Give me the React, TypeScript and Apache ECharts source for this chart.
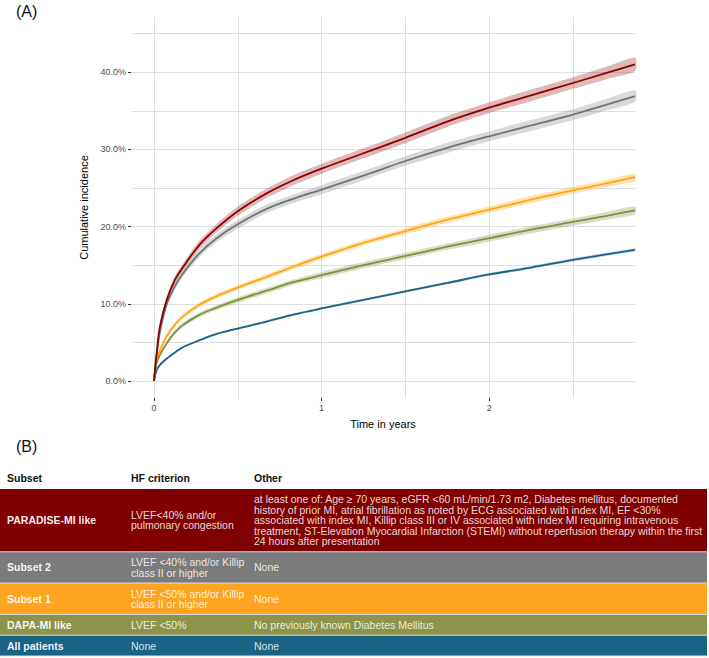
import React, { useEffect, useRef } from "react";
import * as echarts from "echarts";

// ---- Data ----
const timeYears = [0, 0.016, 0.036, 0.076, 0.125, 0.175, 0.274, 0.374, 0.5, 0.672, 0.831, 1.0, 1.25, 1.5, 1.75, 2.0, 2.25, 2.5, 2.7, 2.87];

const paradiseMI = [0, 3.6, 7.1, 10.5, 13.1, 14.8, 17.7, 19.8, 22.0, 24.3, 26.0, 27.5, 29.5, 31.5, 33.6, 35.4, 37.0, 38.6, 39.9, 41.0];
const subset2 = [0, 3.3, 6.4, 9.9, 12.3, 14.0, 16.6, 18.5, 20.3, 22.3, 23.6, 24.8, 26.6, 28.5, 30.2, 31.7, 33.1, 34.5, 35.8, 36.9];
const subset1 = [0, 2.7, 4.0, 5.8, 7.3, 8.4, 9.9, 11.0, 12.1, 13.5, 14.8, 16.1, 17.9, 19.4, 20.9, 22.2, 23.5, 24.7, 25.6, 26.4];
const dapaMI = [0, 2.3, 3.4, 4.9, 6.3, 7.3, 8.6, 9.5, 10.5, 11.7, 12.8, 13.7, 15.0, 16.2, 17.4, 18.5, 19.6, 20.6, 21.4, 22.1];
const allPatients = [0, 1.4, 2.1, 2.9, 3.7, 4.4, 5.3, 6.1, 6.8, 7.7, 8.6, 9.4, 10.5, 11.6, 12.7, 13.8, 14.7, 15.7, 16.4, 17.0];

// half-widths of the confidence bands (percentage points)
const ciParadiseMI = [0, 0.3, 0.4, 0.45, 0.5, 0.5, 0.55, 0.55, 0.6, 0.6, 0.65, 0.65, 0.65, 0.7, 0.7, 0.7, 0.75, 0.75, 0.8, 0.85];
const ciSubset2 = [0, 0.3, 0.35, 0.4, 0.45, 0.45, 0.5, 0.5, 0.55, 0.55, 0.55, 0.6, 0.6, 0.6, 0.65, 0.65, 0.7, 0.7, 0.75, 0.75];
const ciSubset1 = [0, 0.15, 0.2, 0.25, 0.25, 0.3, 0.3, 0.3, 0.3, 0.35, 0.35, 0.35, 0.35, 0.4, 0.4, 0.4, 0.45, 0.45, 0.45, 0.45];
const ciDapaMI = [0, 0.15, 0.2, 0.25, 0.25, 0.3, 0.3, 0.3, 0.35, 0.35, 0.35, 0.4, 0.4, 0.4, 0.4, 0.45, 0.45, 0.45, 0.5, 0.5];
const ciAllPatients = [0, 0.08, 0.1, 0.1, 0.12, 0.12, 0.12, 0.14, 0.14, 0.15, 0.15, 0.15, 0.16, 0.17, 0.17, 0.18, 0.19, 0.2, 0.2, 0.2];

const yTickValues = [0, 10, 20, 30, 40];
const xTickValues = [0, 1, 2];

// ---- Table (B) ----
const tableHeaders = ["Subset", "HF criterion", "Other"];
const subsetNames = ["PARADISE-MI like", "Subset 2", "Subset 1", "DAPA-MI like", "All patients"];
const hfCriterion = [
  ["LVEF<40% and/or", "pulmonary congestion"],
  ["LVEF <40% and/or Killip", "class II or higher"],
  ["LVEF <50% and/or Killip", "class II or higher"],
  ["LVEF <50%"],
  ["None"],
];
const otherCriteria = [
  [
    "at least one of: Age \u2265 70 years, eGFR <60 mL/min/1.73 m2, Diabetes mellitus, documented",
    "history of prior MI, atrial fibrillation as noted by ECG associated with index MI, EF <30%",
    "associated with index MI, Killip class III or IV associated with index MI requiring intravenous",
    "treatment, ST-Elevation Myocardial Infarction (STEMI) without reperfusion therapy within the first",
    "24 hours after presentation",
  ],
  ["None"],
  ["None"],
  ["No previously known Diabetes Mellitus"],
  ["None"],
];

// ---- Styles ----
const FONT = "'Liberation Sans', Arial, Helvetica, sans-serif";
const lineColors = ["#8B0000", "#737373", "#FFA51C", "#7F9140", "#1A6485"];
const bandColors = [
  "rgba(139,0,0,0.28)",
  "rgba(120,120,120,0.28)",
  "rgba(255,165,0,0.30)",
  "rgba(127,145,64,0.30)",
  "rgba(26,100,133,0.25)",
];
const rowColors = ["#800000", "#7B7B7B", "#FFA41F", "#8B9449", "#1A6385"];

const X_MIN = -0.137;
const X_MAX = 2.87;
const Y_MIN = -2.2;
const Y_MAX = 47.15;

export default function App() {
  const ref = useRef<HTMLDivElement>(null);

  useEffect(() => {
    document.body.style.margin = "0";
    if (!ref.current) return;
    const chart = echarts.init(ref.current, undefined, { renderer: "svg" });

    const groups = [
      { values: paradiseMI, ci: ciParadiseMI },
      { values: subset2, ci: ciSubset2 },
      { values: subset1, ci: ciSubset1 },
      { values: dapaMI, ci: ciDapaMI },
      { values: allPatients, ci: ciAllPatients },
    ];

    const series: any[] = [];
    const smooth = 0.35;

    // confidence ribbons (custom series: one polygon per subset)
    groups.forEach((g, k) => {
      const rows = timeYears.map((t, i) => [t, g.values[i] - g.ci[i], g.values[i] + g.ci[i]]);
      series.push({
        type: "custom",
        name: "ribbon" + k,
        xAxisIndex: 0,
        yAxisIndex: 0,
        silent: true,
        z: 1,
        encode: { x: 0, y: [1, 2] },
        data: rows,
        renderItem: (params: any, api: any) => {
          if (params.dataIndex !== 0) return null;
          const upper = rows.map((r) => api.coord([r[0], r[2]]));
          const lower = rows.map((r) => api.coord([r[0], r[1]])).reverse();
          return {
            type: "polygon",
            shape: { points: upper.concat(lower), smooth: 0.25 },
            style: { fill: bandColors[k], stroke: "none" },
          };
        },
      });
    });

    // lines, bottom-most first so the top curve is drawn last
    [4, 3, 2, 1, 0].forEach((k) => {
      const g = groups[k];
      series.push({
        type: "line",
        name: subsetNames[k],
        xAxisIndex: 0,
        yAxisIndex: 0,
        data: timeYears.map((t, i) => [t, g.values[i]]),
        showSymbol: false,
        symbol: "none",
        smooth,
        lineStyle: { color: lineColors[k], width: 1.8 },
        z: 3,
      });
    });

    // texts and table graphics
    const graphic: any[] = [];
    graphic.push({
      type: "text",
      x: 16,
      y: 11,
      style: { text: "(A)", fontSize: 16, fontFamily: FONT, fill: "#111", verticalAlign: "middle" },
    });
    graphic.push({
      type: "text",
      x: 16,
      y: 446,
      style: { text: "(B)", fontSize: 16, fontFamily: FONT, fill: "#111", verticalAlign: "middle" },
    });

    const colX = [7, 131, 254];
    const tableLeft = 0;
    const tableWidth = 707;
    const headerY = 478;
    const firstRowTop = 489;
    const lineH = 10.6;
    const pad = 9.2;
    const gap = 1;
    const fs = 10.5;

    tableHeaders.forEach((h, c) => {
      graphic.push({
        type: "text",
        x: colX[c],
        y: headerY,
        style: { text: h, fontSize: fs, fontWeight: "bold", fontFamily: FONT, fill: "#111", verticalAlign: "middle" },
      });
    });

    let top = firstRowTop;
    const rowHeights = subsetNames.map((_, r) =>
      Math.max(hfCriterion[r].length, otherCriteria[r].length) * lineH + pad
    );
    const totalH = rowHeights.reduce((a, b) => a + b, 0) + gap * (rowHeights.length - 1);
    graphic.push({
      type: "rect",
      shape: { x: tableLeft, y: firstRowTop, width: tableWidth, height: totalH + 1 },
      style: { fill: "#D8DCDF" },
      z: 0,
    });
    subsetNames.forEach((name, r) => {
      const h = rowHeights[r];
      graphic.push({
        type: "rect",
        shape: { x: tableLeft, y: top, width: tableWidth, height: h },
        style: { fill: rowColors[r] },
        z: 1,
      });
      const cy = top + h / 2;
      graphic.push({
        type: "text",
        x: colX[0],
        y: cy,
        z: 2,
        style: { text: name, fontSize: fs, fontWeight: "bold", fontFamily: FONT, fill: "rgba(255,255,255,0.95)", verticalAlign: "middle" },
      });
      graphic.push({
        type: "text",
        x: colX[1],
        y: cy,
        z: 2,
        style: { text: hfCriterion[r].join("\n"), fontSize: fs, lineHeight: lineH, fontFamily: FONT, fill: "rgba(255,255,255,0.85)", verticalAlign: "middle" },
      });
      graphic.push({
        type: "text",
        x: colX[2],
        y: cy,
        z: 2,
        style: { text: otherCriteria[r].join("\n"), fontSize: fs, lineHeight: lineH, fontFamily: FONT, fill: "rgba(255,255,255,0.85)", verticalAlign: "middle" },
      });
      top += h + gap;
    });

    const gridLine = { show: true, showMinLine: false, showMaxLine: false, lineStyle: { color: "#DFDFDF", width: 1 } };

    chart.setOption({
      animation: false,
      backgroundColor: "#fff",
      grid: { left: 131, right: 74, top: 17, bottom: 260, containLabel: false },
      xAxis: [
        {
          type: "value",
          position: "bottom",
          min: X_MIN,
          max: X_MAX,
          splitNumber: 6,
          axisLine: { show: false, onZero: false },
          axisTick: { show: false },
          axisLabel: { show: false },
          splitLine: gridLine,
        },
        {
          type: "value",
          position: "bottom",
          min: X_MIN,
          max: X_MAX,
          name: "Time in years",
          nameLocation: "middle",
          nameGap: 20,
          nameTextStyle: { fontSize: 11, color: "#000", fontFamily: FONT },
          axisLine: { show: false, onZero: false },
          axisTick: { show: true, customValues: xTickValues, length: 3, lineStyle: { color: "#333", width: 1 } },
          axisLabel: {
            customValues: xTickValues,
            formatter: (v: number) => String(v),
            fontSize: 9,
            color: "#4D4D4D",
            fontFamily: FONT,
            margin: 5,
          },
          splitLine: { show: false },
        },
      ],
      yAxis: [
        {
          type: "value",
          position: "left",
          min: Y_MIN,
          max: Y_MAX,
          splitNumber: 10,
          axisLine: { show: false, onZero: false },
          axisTick: { show: false },
          axisLabel: { show: false },
          splitLine: gridLine,
        },
        {
          type: "value",
          position: "left",
          min: Y_MIN,
          max: Y_MAX,
          name: "Cumulative incidence",
          nameLocation: "middle",
          nameGap: 37,
          nameTextStyle: { fontSize: 11, color: "#000", fontFamily: FONT },
          axisLine: { show: false, onZero: false },
          axisTick: { show: true, customValues: yTickValues, length: 3, lineStyle: { color: "#333", width: 1 } },
          axisLabel: {
            customValues: yTickValues,
            formatter: (v: number) => v.toFixed(1) + "%",
            fontSize: 9,
            color: "#4D4D4D",
            fontFamily: FONT,
            margin: 5,
          },
          splitLine: { show: false },
        },
      ],
      series,
      graphic,
    });

    return () => chart.dispose();
  }, []);

  return (
    <div
      ref={ref}
      style={{ position: "fixed", left: 0, top: 0, width: 709, height: 658, background: "#fff" }}
    />
  );
}
